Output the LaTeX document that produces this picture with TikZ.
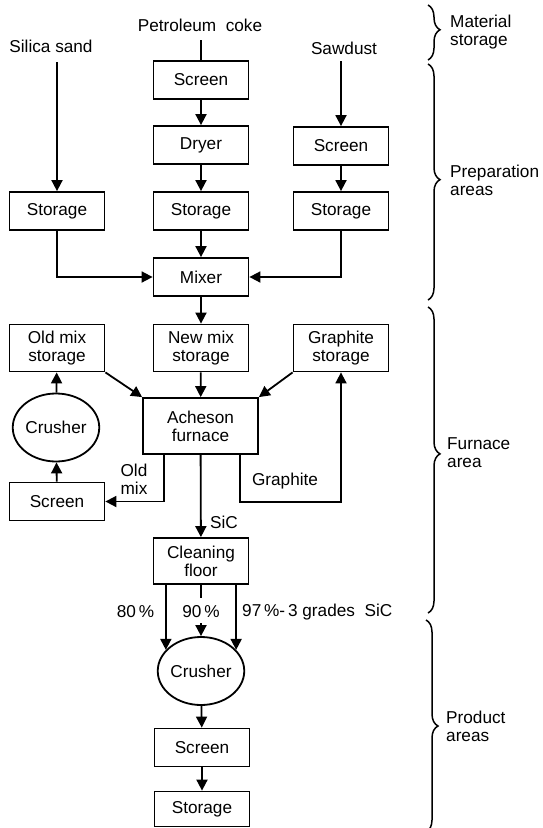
\documentclass[tikz,border=0pt]{standalone}
\usepackage{fontspec}
\setmainfont{Liberation Sans}
\usetikzlibrary{arrows.meta,shapes.geometric,decorations.pathreplacing}
\begin{document}
\begin{tikzpicture}[x=1pt,y=-1pt,
  every node/.style={font=\fontsize{17.2}{18}\selectfont,inner sep=0pt},
  box/.style={draw,line width=1.8pt,minimum width=95pt,minimum height=38pt,align=center},
  tall/.style={box,minimum height=47pt},
  oval/.style={draw,ellipse,line width=1.8pt,minimum width=83pt,minimum height=68pt},
  arr/.style={line width=1.8pt,-{Triangle[length=11pt,width=11pt]}},
  ln/.style={line width=1.8pt},
  brc/.style={line width=1.5pt,decorate,decoration={brace,amplitude=12pt,aspect=#1}},
  side/.style={anchor=west,align=left},
]
\useasboundingbox (0,0) rectangle (542,828);

% top labels
\node (silica) at (51,46) {Silica sand};
\node (coke) at (200,25) {Petroleum\ \ coke};
\node (saw) at (344,48) {Sawdust};
\coordinate (silicaend) at (57,62);
\coordinate (cokeend) at (201,40);
\coordinate (sawend) at (341,61);

% boxes
\node[box] (scr1) at (201,80) {Screen};
\node[box] (dry) at (201,145) {Dryer};
\node[box] (scr2) at (341,146) {Screen};
\node[box] (st1) at (57,211) {Storage};
\node[box] (st2) at (201,211) {Storage};
\node[box] (st3) at (341,211) {Storage};
\node[box] (mix) at (201,277) {Mixer};
\node[tall] (oms) at (57,348) {Old mix\\storage};
\node[tall] (nms) at (201,348) {New mix\\storage};
\node[tall] (gs) at (341,348) {Graphite\\storage};
\node[box,minimum width=115pt,minimum height=56pt] (ach) at (200.5,426) {Acheson\\furnace};
\node[oval] (cr1) at (56,427.5) {Crusher};
\node[box] (scrL) at (57,501.5) {Screen};
\node[tall,minimum height=46pt] (cf) at (201,561) {Cleaning\\floor};
\node[oval] (cr2) at (201,671) {Crusher};
\node[box] (scr3) at (202,747.5) {Screen};
\node[box,minimum height=35pt] (sto) at (202,809) {Storage};

% connectors, preparation
\draw[arr] (silicaend) -- (st1.north);
\draw[ln] (cokeend) -- (scr1.north);
\draw[arr] (sawend) -- (scr2.north);
\draw[arr] (scr1) -- (dry);
\draw[arr] (dry) -- (st2);
\draw[arr] (scr2) -- (st3);
\draw[arr] (st2) -- (mix);
\draw[arr] (st1.south) |- (mix.west);
\draw[arr] (st3.south) |- (mix.east);

% furnace area
\draw[arr] (mix) -- (nms);
\draw[arr] (nms) -- (ach);
\draw[arr] (oms.south east) -- (ach.north west);
\draw[arr] (gs.south west) -- (ach.north east);
\draw[arr] (scrL) -- (cr1);
\draw[arr] (cr1) -- (oms);
\draw[arr] (ach.south west) ++(22,0) |- (scrL.east);
\draw[arr] (ach.south east) ++(-19,0) -- ++(0,47) -| (gs.south);
\draw[arr] (ach) -- (cf);
\node[align=center] (oml) at (134,479) {Old\\mix};
\node (grl) at (285,481) {Graphite};
\node (sic) at (224,522) {SiC};

% product area
\coordinate (m1) at (201,598);
\coordinate (m2) at (201,623);
\draw[arr] (cf.south -| cr2.149) -- (cr2.149);
\draw[arr] (cf.south -| cr2.31) -- (cr2.31);
\draw[ln] (cf.south) -- (m1);
\draw[arr] (m2) -- (cr2.north);
\node (p80) at (135.5,612) {80\,\%};
\node (p90) at (201,612) {90\,\%};
\node[anchor=west] (p97) at (242,612) {97\,\%-\,3 grades\ \ SiC};
\draw[arr] (cr2) -- (scr3);
\draw[arr] (scr3) -- (sto);

% braces
\draw[brc=0.45] (428,5) -- (428,60);
\draw[brc=0.49] (428,64) -- (428,300);
\draw[brc=0.48] (428,307) -- (428,613);
\draw[brc=0.5] (426,620) -- (426,832);
\node[side] (lms) at (450,32) {Material\\storage};
\node[side] (lpa) at (450,180) {Preparation\\areas};
\node[side] (lfa) at (447,453) {Furnace\\area};
\node[side] (lpr) at (446,726) {Product\\areas};
\end{tikzpicture}
\end{document}
